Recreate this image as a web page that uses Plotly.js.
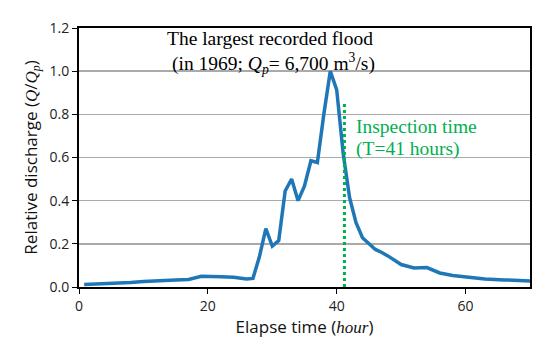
<!DOCTYPE html>
<html>
<head>
<meta charset="utf-8">
<script src="https://cdn.plot.ly/plotly-3.0.1.min.js"></script>
<style>html,body{margin:0;padding:0;background:#fff;}#chart{width:550px;height:347px;}</style>
</head>
<body>
<div id="chart"></div>
<script>
var hours = [0.8, 3, 5, 8, 10, 13, 15, 17, 19, 22, 24, 26, 27, 28, 29, 30, 31, 32, 33, 34, 35, 36, 37, 38, 39, 40, 41, 42, 43, 44, 46, 47, 48, 50, 52, 54, 56, 58, 60, 63, 66, 68, 70];
var relQ = [0.012, 0.014, 0.017, 0.021, 0.025, 0.027, 0.032, 0.035, 0.05, 0.048, 0.045, 0.037, 0.04, 0.14, 0.27, 0.19, 0.215, 0.445, 0.50, 0.40, 0.468, 0.585, 0.577, 0.80, 1.0, 0.913, 0.62, 0.414, 0.298, 0.228, 0.174, 0.16, 0.143, 0.104, 0.088, 0.09, 0.065, 0.053, 0.045, 0.037, 0.033, 0.03, 0.028];
var inspectX = [41.2, 41.2];
var inspectY = [0, 0.86];
var xTicks = [0, 20, 40, 60];
var yTicks = [0, 0.2, 0.4, 0.6, 0.8, 1.0, 1.2];
var yTickText = ['0.0', '0.2', '0.4', '0.6', '0.8', '1.0', '1.2'];

var traces = [
  {x: hours, y: relQ, type: 'scatter', mode: 'lines', line: {color: '#2077b8', width: 3.5}, hoverinfo: 'skip'},
  {x: inspectX, y: inspectY, type: 'scatter', mode: 'lines', line: {color: '#00b050', width: 3, dash: 'dot'}, hoverinfo: 'skip'}
];

var serif = 'Liberation Serif, Times New Roman, serif';
var sans = 'Open Sans, Liberation Sans, sans-serif';

var layout = {
  width: 550, height: 347,
  margin: {l: 79, r: 20, t: 28, b: 60},
  showlegend: false,
  paper_bgcolor: '#fff', plot_bgcolor: '#fff',
  xaxis: {
    range: [0, 70], tickvals: xTicks, ticks: 'outside', ticklen: 5, tickcolor: '#000',
    showgrid: false, zeroline: false, showline: true, linecolor: '#000', linewidth: 2, mirror: true,
    tickfont: {family: sans, size: 14, color: '#222'},
    title: {text: 'Elapse time (<i style="font-family:Liberation Serif">hour</i>)', font: {family: sans, size: 17, color: '#111'}, standoff: 4}
  },
  yaxis: {
    range: [0, 1.2], tickvals: yTicks, ticktext: yTickText, ticks: 'outside', ticklen: 5, tickcolor: '#000',
    showgrid: true, gridcolor: '#aaaaaa', gridwidth: 1.5, zeroline: false,
    showline: true, linecolor: '#000', linewidth: 2, mirror: true,
    tickfont: {family: sans, size: 14, color: '#222'},
    title: {text: 'Relative discharge (<i style="font-family:Liberation Serif">Q</i>/<i style="font-family:Liberation Serif">Q<sub>p</sub></i>)', font: {family: sans, size: 17, color: '#111'}, standoff: 8}
  },
  annotations: [
    {x: 29.6, y: 1.152, xref: 'x', yref: 'y', text: 'The largest recorded flood', showarrow: false, font: {family: serif, size: 19.5, color: '#000'}},
    {x: 30.2, y: 1.035, xref: 'x', yref: 'y', text: '(in 1969; <i>Q<sub>p</sub></i>= 6,700 m<sup>3</sup>/s)', showarrow: false, font: {family: serif, size: 19.5, color: '#000'}},
    {x: 42.7, y: 0.745, xref: 'x', yref: 'y', xanchor: 'left', text: 'Inspection time', showarrow: false, font: {family: serif, size: 19.5, color: '#00b050'}},
    {x: 42.7, y: 0.64, xref: 'x', yref: 'y', xanchor: 'left', text: '(T=41 hours)', showarrow: false, font: {family: serif, size: 19.5, color: '#00b050'}}
  ]
};

Plotly.newPlot('chart', traces, layout, {displayModeBar: false, staticPlot: true});
</script>
</body>
</html>
